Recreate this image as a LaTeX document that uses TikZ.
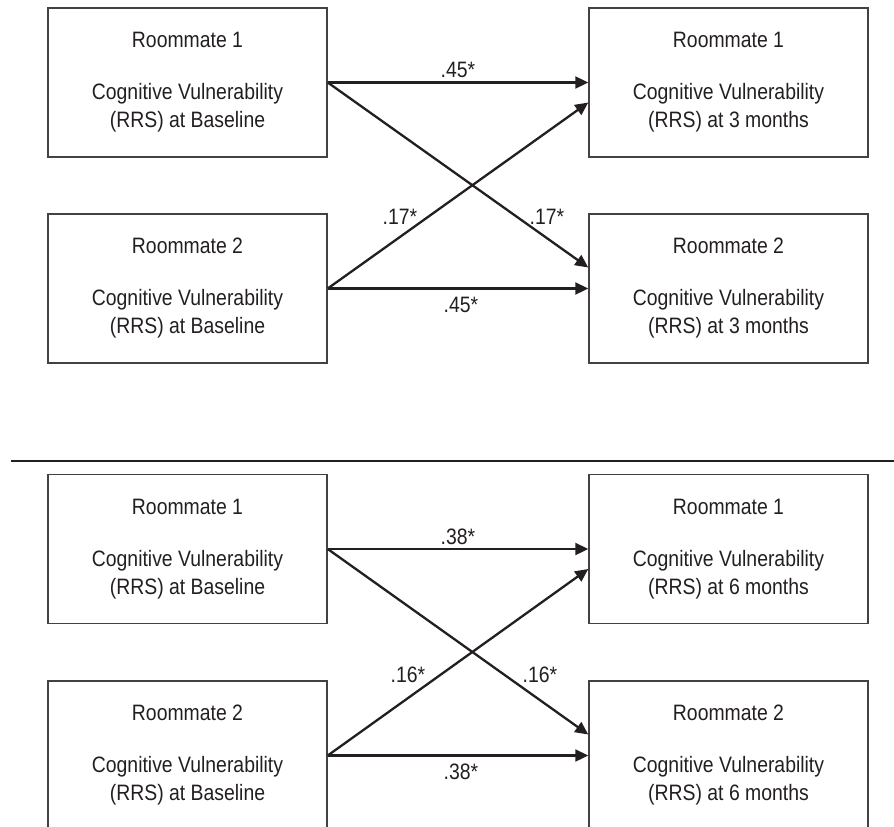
\documentclass[tikz,border=0pt]{standalone}
\usepackage{fontspec}
\setmainfont[FakeStretch=0.87]{Liberation Sans}
\usetikzlibrary{arrows.meta}
\definecolor{ink}{HTML}{231F20}
\tikzset{
  box/.style={draw=ink!85, line width=1.5pt, minimum width=279pt, minimum height=149pt,
    inner sep=0pt, align=center, text=ink, font=\fontsize{22.3}{28}\selectfont},
  arr/.style={draw=ink, line width=2.3pt, -{Triangle[length=13pt,width=12pt]}},
  lbl/.style={text=ink, font=\fontsize{22.3}{24}\selectfont, inner sep=0pt}
}
\begin{document}
\begin{tikzpicture}[x=1pt,y=-1pt]
\useasboundingbox (0,0) rectangle (894,827);
\clip (0,0) rectangle (894,827);
% ---- top panel
\node[box] (a1) at (187.5,82.5) {Roommate 1\\[24pt]Cognitive Vulnerability\\(RRS) at Baseline};
\node[box] (a2) at (187.5,288.5) {Roommate 2\\[24pt]Cognitive Vulnerability\\(RRS) at Baseline};
\node[box] (b1) at (728.5,82.5) {Roommate 1\\[24pt]Cognitive Vulnerability\\(RRS) at 3 months};
\node[box] (b2) at (728.5,288.5) {Roommate 2\\[24pt]Cognitive Vulnerability\\(RRS) at 3 months};
\draw[arr] (a1.east) -- (b1.west);
\draw[arr] (a2.east) -- (b2.west);
\draw[arr] (a1.east) -- ([yshift=21pt]b2.west);
\draw[arr] (a2.east) -- ([yshift=-20pt]b1.west);
\node[lbl] (t1) at (458,70) {.45*};
\node[lbl] (t2) at (461,305) {.45*};
\node[lbl] (t3) at (400,217) {.17*};
\node[lbl] (t4) at (547,217) {.17*};
% ---- separator
\coordinate (s1) at (11,461);
\coordinate (s2) at (894,461);
\draw[ink, line width=2pt] (s1) -- (s2);
% ---- bottom panel
\node[box] (c1) at (187.5,549) {Roommate 1\\[24pt]Cognitive Vulnerability\\(RRS) at Baseline};
\node[box] (c2) at (187.5,755.5) {Roommate 2\\[24pt]Cognitive Vulnerability\\(RRS) at Baseline};
\node[box] (d1) at (728.5,549) {Roommate 1\\[24pt]Cognitive Vulnerability\\(RRS) at 6 months};
\node[box] (d2) at (728.5,755.5) {Roommate 2\\[24pt]Cognitive Vulnerability\\(RRS) at 6 months};
\draw[arr] (c1.east) -- (d1.west);
\draw[arr] (c2.east) -- (d2.west);
\draw[arr] (c1.east) -- ([yshift=21pt]d2.west);
\draw[arr] (c2.east) -- ([yshift=-20pt]d1.west);
\node[lbl] (u1) at (458,537) {.38*};
\node[lbl] (u2) at (461,772) {.38*};
\node[lbl] (u3) at (408,675) {.16*};
\node[lbl] (u4) at (540,675) {.16*};
\end{tikzpicture}
\end{document}
